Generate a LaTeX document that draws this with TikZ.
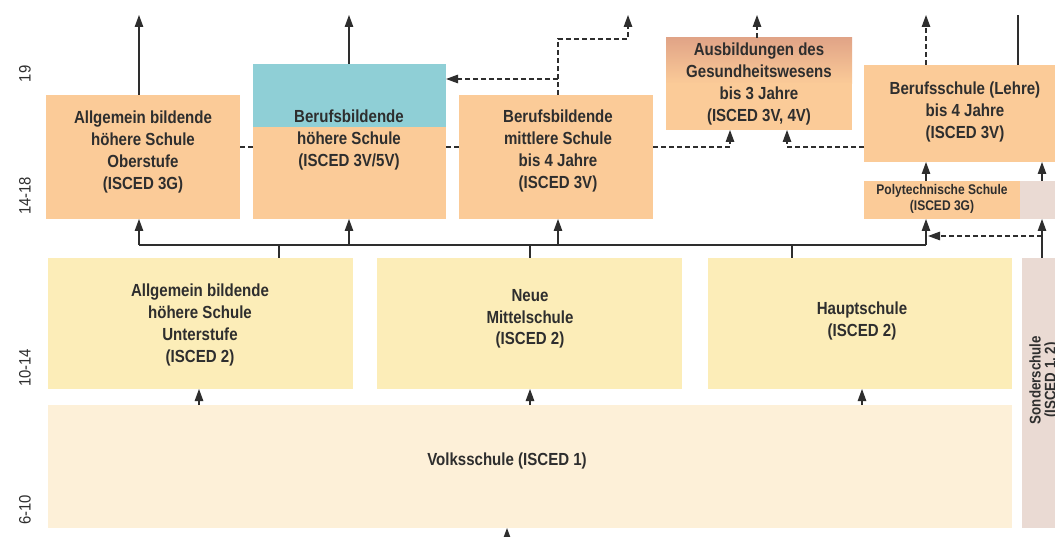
\documentclass[tikz,border=0pt]{standalone}
\usepackage{fontspec}
\setmainfont{Liberation Sans}[FakeStretch=0.9]
\newfontfamily\boxfont{Liberation Sans Bold}[FakeStretch=0.86]
\usetikzlibrary{arrows.meta}
\definecolor{peach}{HTML}{FBCB98}
\definecolor{tealbox}{HTML}{8FCFD6}
\definecolor{ylw}{HTML}{FCEDB8}
\definecolor{vsbg}{HTML}{FDF0D8}
\definecolor{sonderc}{HTML}{EADAD3}
\definecolor{salmon}{HTML}{E1A487}
\definecolor{ink}{HTML}{2E2E2E}
\tikzset{
  box/.style={draw=none, inner sep=0pt, outer sep=0pt},
  txt/.style={align=center, text=ink, inner sep=0pt, font=\boxfont\fontsize{17.5}{21.7}\selectfont},
  smalltxt/.style={align=center, text=ink, inner sep=0pt, font=\boxfont\fontsize{14}{16}\selectfont},
  agetxt/.style={rotate=90, text=ink, inner sep=0pt, font=\fontsize{16.5}{20}\selectfont},
  conn/.style={draw=ink, line width=1.1pt},
  arr/.style={conn, -{Triangle[length=12pt,width=8.5pt]}},
  dasharr/.style={conn, line width=1.3pt, dash pattern=on 5pt off 3pt, -{Triangle[length=12pt,width=8.5pt]}},
  dashln/.style={conn, line width=1.3pt, dash pattern=on 5pt off 3pt},
}
\begin{document}
\begin{tikzpicture}[x=1pt,y=-1pt]
\clip (0,0) rectangle (1055,537);
\fill[white] (0,0) rectangle (1055,537);

% age labels
\node[agetxt] (a19) at (25,74) {19};
\node[agetxt] (a1418) at (25,196) {14-18};
\node[agetxt] (a1014) at (25,368) {10-14};
\node[agetxt] (a610) at (25,510) {6-10};

% boxes upper row
\node[box, fill=peach, minimum width=194pt, minimum height=124pt] (ahso) at (143,157) {};
\node[box, fill=peach, minimum width=193pt, minimum height=155pt] (bhs) at (349.5,141.5) {};
\fill[tealbox] (bhs.north west) rectangle (446,127);
\node[box, fill=peach, minimum width=194pt, minimum height=124pt] (bms) at (556,157) {};
\node[box, minimum width=186pt, minimum height=92pt] (ausb) at (759,84) {};
\shade[top color=salmon, bottom color=peach] (ausb.north west) rectangle (ausb.east);
\fill[peach] (666,83.5) rectangle (852,130);
\node[box, fill=peach, minimum width=196pt, minimum height=97pt] (bs) at (962,113.5) {};
\node[box, fill=peach, minimum width=156pt, minimum height=38pt] (poly) at (942,200) {};
\node[box, fill=sonderc, minimum width=40pt, minimum height=38pt] (sopoly) at (1040,200) {};

% boxes lower rows
\node[box, fill=ylw, minimum width=305pt, minimum height=131pt] (unter) at (200.5,323.5) {};
\node[box, fill=ylw, minimum width=305pt, minimum height=131pt] (nms) at (529.5,323.5) {};
\node[box, fill=ylw, minimum width=304pt, minimum height=131pt] (hs) at (860,323.5) {};
\node[box, fill=sonderc, minimum width=40pt, minimum height=270pt] (sonder) at (1042,393) {};
\node[box, fill=vsbg, minimum width=964pt, minimum height=123pt] (vs) at (530,466.5) {};

% texts
\node[txt] (tahso) at (143,152) {Allgemein bildende\\höhere Schule\\Oberstufe\\(ISCED 3G)};
\node[txt] (tbhs) at (349,140) {Berufsbildende\\höhere Schule\\(ISCED 3V/5V)};
\node[txt] (tbms) at (558,151) {Berufsbildende\\mittlere Schule\\bis 4 Jahre\\(ISCED 3V)};
\node[txt] (tausb) at (759,84) {Ausbildungen des\\Gesundheitswesens\\bis 3 Jahre\\(ISCED 3V, 4V)};
\node[txt] (tbs) at (965,112) {Berufsschule (Lehre)\\bis 4 Jahre\\(ISCED 3V)};
\node[smalltxt] (tpoly) at (942,199) {Polytechnische Schule\\(ISCED 3G)};
\node[txt] (tunter) at (200,325) {Allgemein bildende\\höhere Schule\\Unterstufe\\(ISCED 2)};
\node[txt] (tnms) at (530,319) {Neue\\Mittelschule\\(ISCED 2)};
\node[txt] (ths) at (862,321) {Hauptschule\\(ISCED 2)};
\node[txt] (tvs) at (507,461) {Volksschule (ISCED 1)};
\node[txt, rotate=90, font=\boxfont\fontsize{15.5}{15}\selectfont] (tsonder) at (1044,380) {Sonderschule\\(ISCED 1, 2)};

% coordinates
\coordinate (t1) at (139,15);
\coordinate (t2) at (349,15);
\coordinate (t3) at (628,15);
\coordinate (t4) at (757,15);
\coordinate (t5) at (926,15);
\coordinate (t6) at (1018,15);
\coordinate (d1) at (558,39);
\coordinate (d2) at (558,79);
\coordinate (h) at (0,147);
\coordinate (a1) at (730,147);
\coordinate (a2) at (787,147);
\coordinate (r) at (1042,236);
\coordinate (b1) at (279,245);
\coordinate (b2) at (530,245);
\coordinate (b3) at (792,245);
\coordinate (v1) at (199,0);
\coordinate (v2) at (530,0);
\coordinate (v3) at (862,0);
\coordinate (bot) at (507,545);

% top arrows
\draw[arr] (ahso.north -| t1) -- (t1);
\draw[arr] (bhs.north -| t2) -- (t2);
\draw[dasharr] (bms.north -| d1) -- (d1) -| (t3);
\draw[dasharr] (d2) -- (bhs.east |- d2);
\draw[dasharr] (ausb.north -| t4) -- (t4);
\draw[dasharr] (bs.north -| t5) -- (t5);
\draw[conn] (bs.north -| t6) -- (t6);

% dashed horizontal at 147
\draw[dashln] (ahso.east |- h) -- (bhs.west |- h);
\draw[dashln] (bhs.east |- h) -- (bms.west |- h);
\draw[dasharr] (bms.east |- a1) -| (ausb.south -| a1);
\draw[dasharr] (bs.west |- a2) -| (ausb.south -| a2);

% poly to berufsschule
\draw[arr] (poly.north -| t5) -- (bs.south -| t5);
\draw[arr] (sopoly.north -| r) -- (bs.south -| r);

% distribution line
\draw[conn] (unter.north -| b1) -- (b1);
\draw[conn] (nms.north -| b2) -- (b2);
\draw[conn] (hs.north -| b3) -- (b3);
\draw[conn] (t1 |- b1) -- (t5 |- b1);
\draw[arr] (t1 |- b1) -- (ahso.south -| t1);
\draw[arr] (t2 |- b1) -- (bhs.south -| t2);
\draw[arr] (d1 |- b1) -- (bms.south -| d1);
\draw[arr] (t5 |- b1) -- (poly.south -| t5);
\draw[dasharr] (r) -- ([xshift=2pt]t5 |- r);
\draw[arr] (sonder.north -| r) -- (sopoly.south -| r);

% volksschule arrows
\draw[arr] (vs.north -| v1) -- (unter.south -| v1);
\draw[arr] (vs.north -| v2) -- (nms.south -| v2);
\draw[arr] (vs.north -| v3) -- (hs.south -| v3);
\draw[arr] (bot) -- (vs.south -| bot);
\end{tikzpicture}
\end{document}
